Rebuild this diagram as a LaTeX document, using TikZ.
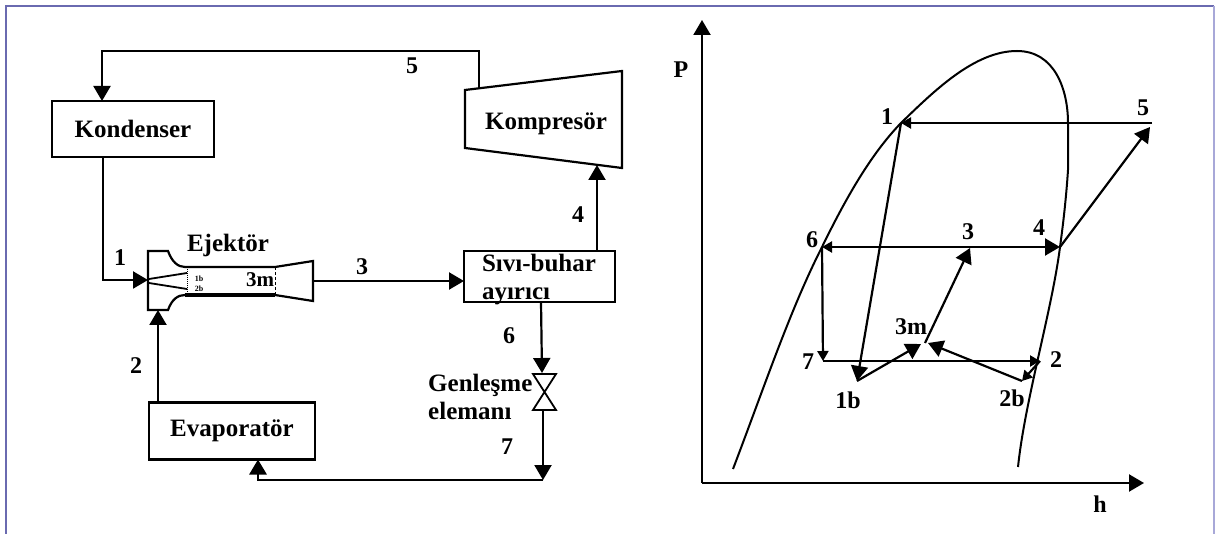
\documentclass[tikz,border=0pt]{standalone}
\usepackage{fontspec}
\setmainfont{Liberation Serif}
\usetikzlibrary{arrows.meta, positioning}

\begin{document}
\begin{tikzpicture}[
  x=1pt, y=-1pt,
  unit/.style={rectangle, draw, line width=2.8pt, outer sep=0pt, inner sep=0pt, align=left, font=\fontsize{25}{28}\selectfont\bfseries},
  unittext/.style={inner sep=0pt, align=left, font=\fontsize{25}{28}\selectfont\bfseries},
  lbl/.style={inner sep=0pt, font=\fontsize{24}{28}\selectfont\bfseries},
  tiny/.style={inner sep=0pt, font=\fontsize{8}{8}\selectfont\bfseries},
  arrow/.style={-{Triangle[length=15pt, width=17pt]}, line width=2.2pt},
  smallarrow/.style={-{Triangle[length=10pt, width=11pt]}, line width=2.2pt},
  frameline/.style={line width=2pt, color=frame}
]
  \definecolor{frame}{HTML}{6A6AB0}
  \definecolor{framelight}{HTML}{A8A8D8}

  \useasboundingbox (0,0) rectangle (1215,534);
  \draw[frameline] (5.5,534) -- (5.5,6) -- (1214,6);
  \draw[line width=1.2pt, color=framelight] (1214,6) -- (1214,534);

  % left: the cycle
  \node[unit, minimum width=162pt, minimum height=56pt] (kondenser) at (133,129) {Kondenser};
  \node[unit, minimum width=166pt, minimum height=57pt] (evaporator) at (232,431) {Evaporatör};
  \node[unit, minimum width=151pt, minimum height=51pt] (ayirici) at (539.5,276.5) {};
  \node[unittext] (ayiricitext) at (539,280) {Sıvı-buhar\\ayırıcı};

  \coordinate (kompnw) at (465,90);
  \coordinate (kompne) at (622,71);
  \coordinate (kompse) at (622,168);
  \coordinate (kompsw) at (465,148);
  \coordinate (komptop) at (479,88.5);
  \coordinate (kompbot) at (597,165);
  \draw[line width=2.2pt] (kompnw) -- (kompne) -- (kompse) -- (kompsw) -- cycle;
  \node[unittext] (kompresor) at (546,124) {Kompresör};

  \coordinate (ejin) at (148,280);
  \coordinate (ejbot) at (158,310);
  \coordinate (ejout) at (313,281);
  \draw[line width=2.2pt] (148,251) -- (168,251) .. controls (172,262) and (178,267) .. (185,267)
    -- (275,267) -- (313,261) -- (313,301) -- (275,295) -- (185,295)
    .. controls (178,295) and (172,299) .. (168,310) -- (148,310) -- cycle;
  \draw[line width=3.2pt] (185,295) -- (275,295);
  \draw[line width=1.8pt] (149,279) -- (187,273);
  \draw[line width=1.8pt] (149,283) -- (187,289);
  \draw[densely dotted, line width=1pt] (187,267) -- (187,295);
  \draw[densely dashed, line width=1pt] (275,267) -- (275,295);
  \node[tiny] (ej1b) at (199,279) {1b};
  \node[tiny] (ej2b) at (199,289) {2b};
  \node[inner sep=0pt, font=\fontsize{21}{24}\selectfont\bfseries] (ej3m) at (260,280) {3m};
  \node[unittext] (ejektor) at (228,245) {Ejektör};

  \coordinate (valvetop) at (542,373);
  \coordinate (valvebot) at (543,410);
  \coordinate (corner) at (543,480);
  \draw[line width=1.8pt] (533,374) -- (556,374) -- (533,410) -- (556,410) -- cycle;
  \node[unittext, anchor=west] (genlesme) at (428,397) {Genleşme\\elemanı};

  \draw[arrow] (komptop) -- ++(0,-37.5) -| ([xshift=50pt]kondenser.north west);
  \draw[arrow] ([xshift=51pt]kondenser.south west) |- (ejin);
  \draw[arrow] ([xshift=9pt]evaporator.north west) -- (ejbot);
  \draw[arrow] (ejout) -- (ayirici.west |- ejout);
  \draw[arrow] ([xshift=133pt]ayirici.north west) -- (kompbot);
  \draw[arrow] ([xshift=77pt]ayirici.south west) -- (valvetop);
  \draw[arrow] (valvebot) -- (corner);
  \draw[arrow, line width=2.8pt] (corner) -| (evaporator.south -| 258,0);

  \node[lbl] (lab5) at (412,66) {5};
  \node[lbl] (lab1) at (120,258) {1};
  \node[lbl] (lab2) at (136,366) {2};
  \node[lbl] (lab3) at (362,267) {3};
  \node[lbl] (lab4) at (578,215) {4};
  \node[lbl] (lab6) at (509,336) {6};
  \node[lbl] (lab7) at (507,447) {7};

  % right: P-h chart
  \coordinate (origin) at (702,483);
  \coordinate (ptop) at (702,20);
  \coordinate (hend) at (1144,483);
  \draw[arrow] (origin) -- (ptop);
  \draw[arrow] (origin) -- (hend);
  \node[lbl] (axisP) at (681,70) {P};
  \node[lbl] (axish) at (1100,504) {h};

  \draw[line width=2pt] (733,469) .. controls (765,385) and (790,310) .. (822,247)
    .. controls (845,200) and (870,155) .. (901,123)
    .. controls (935,90) and (975,51) .. (1017,51)
    .. controls (1055,51) and (1068,90) .. (1068,123)
    -- (1068,170)
    .. controls (1066,200) and (1063,225) .. (1060,247)
    .. controls (1052,310) and (1025,400) .. (1018,467);

  \coordinate (pt1) at (901,123);
  \coordinate (pt5) at (1152,123);
  \coordinate (pt5b) at (1150,127);
  \coordinate (pt4) at (1060,247);
  \coordinate (pt6) at (822,247);
  \coordinate (pt3) at (970,248);
  \coordinate (pt3m) at (925,343);
  \coordinate (pt3l) at (921,344);
  \coordinate (pt3r) at (928,343);
  \coordinate (pt7) at (823,361);
  \coordinate (pt2) at (1040,361);
  \coordinate (pt1b) at (857,381);
  \coordinate (pt2b) at (1022,381);

  \draw[smallarrow] (pt5) -- (pt1);
  \draw[arrow] (pt4) -- (pt5b);
  \draw[{Triangle[length=10pt, width=11pt]}-{Triangle[length=15pt, width=17pt]}, line width=2.2pt] (pt6) -- (pt4);
  \draw[arrow] (pt3m) -- (pt3);
  \draw[arrow] (pt1) -- (pt1b);
  \draw[arrow] (pt1b) -- (pt3l);
  \draw[arrow] (pt2b) -- (pt3r);
  \draw[smallarrow] (pt6) -- (pt7);
  \draw[smallarrow] (pt7) -- (pt2);
  \draw[smallarrow] (pt2) -- (pt2b);

  \node[lbl] (nameA) at (887,117) {1};
  \node[lbl] (nameB) at (1143,108) {5};
  \node[lbl] (nameC) at (812,240) {6};
  \node[lbl] (nameD) at (968,232) {3};
  \node[lbl] (nameE) at (1039,228) {4};
  \node[lbl] (nameF) at (808,362) {7};
  \node[lbl] (nameG) at (1056,360) {2};
  \node[lbl] (nameH) at (848,400) {1b};
  \node[lbl] (nameI) at (1012,398) {2b};
  \node[lbl] (nameJ) at (911,327) {3m};
\end{tikzpicture}
\end{document}
